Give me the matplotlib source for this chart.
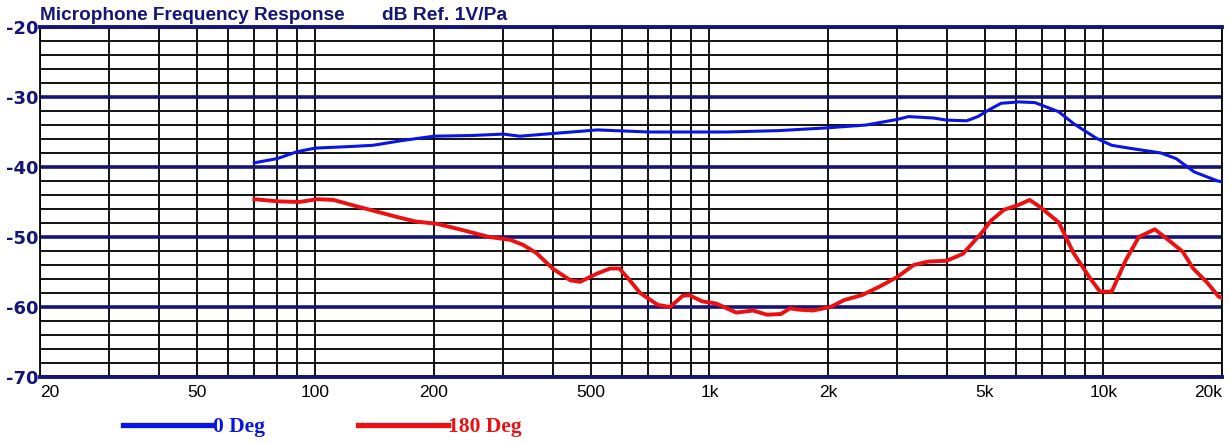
import matplotlib
matplotlib.use("Agg")
import matplotlib.pyplot as plt
from matplotlib.ticker import FixedLocator, NullFormatter

NAVY = "#14147a"

# 0 Deg response (Hz, dB)
freq_0 = [70, 80, 90, 100, 120, 140, 167, 200, 250, 300, 330, 425, 520, 700, 940,
          1100, 1500, 2000, 2500, 3000, 3200, 3700, 4000, 4500, 4800, 5100, 5500,
          6100, 6700, 7700, 8400, 9600, 10500, 11600, 14000, 15300, 17000, 19500, 20000]
db_0 = [-39.4, -38.8, -37.8, -37.3, -37.1, -36.9, -36.2, -35.6, -35.5, -35.3, -35.6,
        -35.1, -34.7, -35.0, -35.0, -35.0, -34.8, -34.4, -34.0, -33.2, -32.8, -33.0,
        -33.3, -33.4, -32.8, -31.9, -30.9, -30.7, -30.8, -32.1, -33.8, -35.9, -36.9,
        -37.3, -38.0, -38.8, -40.7, -42.0, -42.1]

# 180 Deg response (Hz, dB)
freq_180 = [70, 80, 91, 101, 111, 127, 146, 160, 180, 203, 236, 276, 312, 336, 364,
            400, 444, 470, 520, 560, 591, 626, 667, 740, 794, 856, 888, 960, 1040,
            1170, 1290, 1400, 1520, 1600, 1700, 1830, 2030, 2200, 2440, 2700, 3000,
            3300, 3600, 4000, 4400, 4860, 5200, 5600, 6100, 6500, 6900, 7700, 8400,
            9200, 9800, 10500, 11400, 12300, 13500, 14600, 15900, 16900, 18400,
            19600, 20000]
db_180 = [-44.6, -44.9, -45.0, -44.6, -44.7, -45.6, -46.5, -47.1, -47.8, -48.1, -49.0,
          -50.0, -50.4, -51.1, -52.3, -54.5, -56.2, -56.4, -55.2, -54.5, -54.5, -56.1,
          -58.0, -59.7, -60.0, -58.4, -58.3, -59.2, -59.5, -60.8, -60.5, -61.1, -61.0,
          -60.2, -60.4, -60.5, -60.0, -59.0, -58.3, -57.1, -55.7, -54.0, -53.5, -53.4,
          -52.4, -49.7, -47.6, -46.1, -45.4, -44.7, -45.7, -47.9, -52.3, -55.7, -57.8,
          -57.8, -53.3, -50.0, -48.9, -50.4, -52.1, -54.5, -56.6, -58.5, -58.7]

x_ticks = [20, 50, 100, 200, 500, 1000, 2000, 5000, 10000, 20000]
x_labels = ["20", "50", "100", "200", "500", "1k", "2k", "5k", "10k", "20k"]
x_minor = [m * d for d in (10, 100, 1000, 10000) for m in range(1, 10)
           if 20 <= m * d <= 20000 and m * d not in x_ticks]
y_ticks = [-70, -60, -50, -40, -30, -20]
y_minor = [v for v in range(-70, -19, 2) if v % 10 != 0]

fig = plt.figure(figsize=(12.3, 4.43), dpi=100)
ax = fig.add_axes([40 / 1230, 1 - 377 / 443, 1182 / 1230, 350 / 443])

l0, = ax.semilogx(freq_0, db_0, color="#0a14e6", lw=2.2, label="0 Deg", zorder=3)
l1, = ax.semilogx(freq_180, db_180, color="#ee1010", lw=2.8, label="180 Deg", zorder=3)

ax.set_xlim(20, 20000)
ax.set_ylim(-70, -20)

ax.xaxis.set_major_locator(FixedLocator(x_ticks))
ax.xaxis.set_minor_locator(FixedLocator(x_minor))
ax.xaxis.set_minor_formatter(NullFormatter())
ax.set_xticklabels(x_labels, family=["Liberation Sans Narrow", "Liberation Sans"],
                   fontsize=12.5)
xl = ax.get_xticklabels()
xl[0].set_ha("left")
xl[-1].set_ha("right")

ax.yaxis.set_major_locator(FixedLocator(y_ticks))
ax.yaxis.set_minor_locator(FixedLocator(y_minor))
ax.set_yticklabels([str(v) for v in y_ticks], family="DejaVu Sans",
                   fontweight="bold", fontsize=13, color=NAVY)

ax.tick_params(which="both", length=0)
ax.tick_params(axis="x", pad=6)
ax.tick_params(axis="y", pad=1)

ax.grid(which="both", axis="x", color="black", lw=1.3)
ax.grid(which="minor", axis="y", color="black", lw=1.3)
ax.grid(which="major", axis="y", color=NAVY, lw=2.6)
ax.set_axisbelow(True)

for s in ("top", "bottom"):
    ax.spines[s].set_color(NAVY)
    ax.spines[s].set_linewidth(2.8)
for s in ("left", "right"):
    ax.spines[s].set_color("black")
    ax.spines[s].set_linewidth(1.3)

fig.text(40 / 1230, 1 - 15 / 443, "Microphone Frequency Response",
         family="Liberation Sans", fontweight="bold", fontsize=13.7, color=NAVY,
         va="center", ha="left")
fig.text(382 / 1230, 1 - 15 / 443, "dB Ref. 1V/Pa",
         family="Liberation Sans", fontweight="bold", fontsize=13.9, color=NAVY,
         va="center", ha="left")

leg = fig.legend(handles=[l0, l1], loc="center left", bbox_to_anchor=(123 / 1230, 1 - 427 / 443),
                 ncol=2, frameon=False, borderpad=0, borderaxespad=0, handlelength=4.2,
                 handletextpad=0.0, columnspacing=4.3,
                 prop={"family": "Liberation Serif", "weight": "bold", "size": 15.5})
for t, c in zip(leg.get_texts(), ["#0a14e6", "#ee1010"]):
    t.set_color(c)
for h in leg.legend_handles:
    h.set_linewidth(3.8)

fig.savefig("out.png", dpi=100)
